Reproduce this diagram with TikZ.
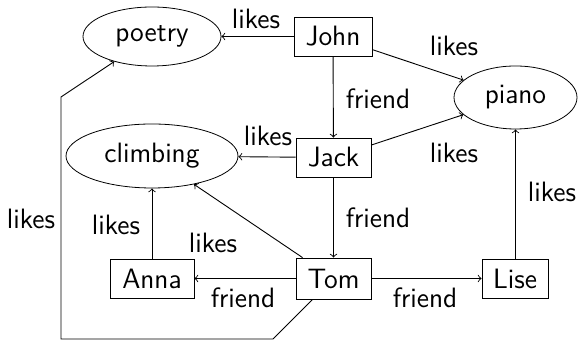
\documentclass[tikz,border=0pt]{standalone}
\usetikzlibrary{shapes.geometric}
\begin{document}
\begin{tikzpicture}[x=0.5pt,y=-0.5pt,
  font=\sffamily\fontsize{14}{16}\selectfont,
  person/.style={draw, rectangle, inner sep=0pt, minimum height=19.5pt},
  hobby/.style={draw, ellipse, inner sep=0pt},
  rel/.style={->, line width=0.45pt},
  lbl/.style={inner sep=0pt}]
\useasboundingbox (0,0) rectangle (578,340);

% people
\node[person, minimum width=39pt]   (john) at (333,36.5)  {John};
\node[person, minimum width=37.5pt] (jack) at (333.5,157.5) {Jack};
\node[person, minimum width=37.5pt, minimum height=20.5pt] (tom) at (333.5,278.5) {Tom};
\node[person, minimum width=42pt]   (anna) at (152,278.5) {Anna};
\node[person, minimum width=33pt]   (lise) at (515,278.5) {Lise};

% interests
\node[hobby, minimum width=69pt, minimum height=29.5pt] (poetry)   at (152,36.5)  {poetry};
\node[hobby, minimum width=86pt, minimum height=32pt]   (climbing) at (152,156)   {climbing};
\node[hobby, minimum width=61.5pt, minimum height=31.5pt] (piano)  at (515.5,97.5) {piano};

% bend points of the long likes connector
\coordinate (b1) at (273,339);
\coordinate (b2) at (61,339);
\coordinate (b3) at (61,97);

% connectors
\draw[rel] (john) -- (poetry);
\draw[rel] (john) -- (piano);
\draw[rel] (john) -- (jack);
\draw[rel] (jack) -- (climbing);
\draw[rel] (jack) -- (piano);
\draw[rel] (jack) -- (tom);
\draw[rel] (tom) -- (anna);
\draw[rel] (tom) -- (lise);
\draw[rel] (tom) -- (climbing);
\draw[rel] (anna) -- (climbing);
\draw[rel] (lise.north -| piano.south) -- (piano.south);
\draw[rel] (tom) -- (b1) -- (b2) -- (b3) -- (poetry);

% labels
\node[lbl] (l1)  at (256,19)  {likes};
\node[lbl] (l2)  at (454,46)  {likes};
\node[lbl] (l3)  at (378,99)  {friend};
\node[lbl] (l4)  at (268,136) {likes};
\node[lbl] (l5)  at (454,153) {likes};
\node[lbl] (l6)  at (378,218) {friend};
\node[lbl] (l7)  at (552,192) {likes};
\node[lbl] (l8)  at (116,225) {likes};
\node[lbl] (l9)  at (213,243) {likes};
\node[lbl] (l10) at (243,298) {friend};
\node[lbl] (l11) at (425,298) {friend};
\node[lbl] (l12) at (31,219)  {likes};
\end{tikzpicture}
\end{document}
